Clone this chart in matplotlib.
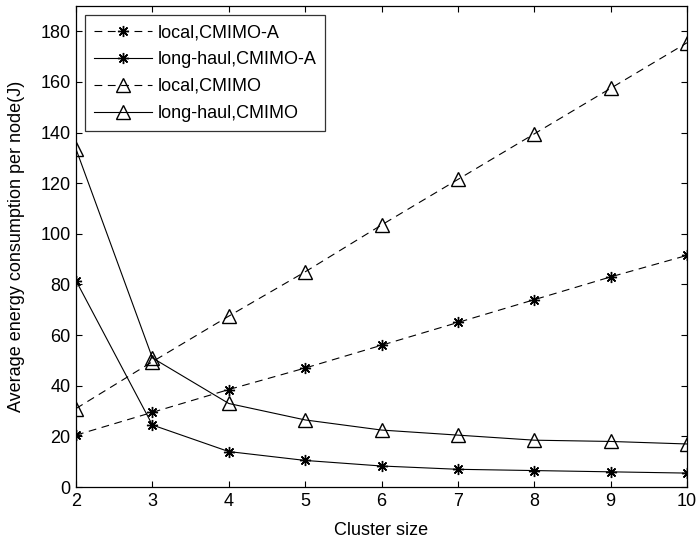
import numpy as np
import matplotlib
matplotlib.use('Agg')
import matplotlib.pyplot as plt

plt.rcParams['font.family'] = ['Liberation Sans', 'DejaVu Sans']

# 데이터
cluster_size = [2, 3, 4, 5, 6, 7, 8, 9, 10]
local_cmimo_a = [20.5, 29.5, 38.5, 47, 56, 65, 74, 83, 91.5]
longhaul_cmimo_a = [81.5, 24.5, 14, 10.5, 8.3, 7, 6.5, 6, 5.5]
local_cmimo = [31, 49.5, 67.5, 85, 103.5, 121.5, 139.5, 157.5, 175.5]
longhaul_cmimo = [133.5, 51, 33, 26.5, 22.5, 20.5, 18.5, 18, 17]

star = (8, 2, 0)
fs = 13

fig = plt.figure(figsize=(6.98, 5.43), dpi=100)
ax = fig.add_axes([0.1089, 0.1031, 0.8754, 0.8858])

ax.plot(cluster_size, local_cmimo_a, 'k--', marker=star, lw=0.8, ms=8, dashes=(7, 5), label='local,CMIMO-A')
ax.plot(cluster_size, longhaul_cmimo_a, 'k-', marker=star, lw=0.8, ms=8, label='long-haul,CMIMO-A')
ax.plot(cluster_size, local_cmimo, 'k--^', lw=0.8, ms=9.5, mfc='none', dashes=(7, 5), label='local,CMIMO')
ax.plot(cluster_size, longhaul_cmimo, 'k-^', lw=0.8, ms=9.5, mfc='none', label='long-haul,CMIMO')

ax.set_xlim(2, 10)
ax.set_ylim(0, 190)
ax.set_xticks(range(2, 11))
ax.set_yticks(range(0, 181, 20))
for s in ax.spines.values():
    s.set_linewidth(0.9)
ax.tick_params(direction='in', top=True, right=True, labelsize=fs, length=4.5, width=0.8)
ax.tick_params(axis='x', pad=4)
ax.tick_params(axis='y', pad=4)
ax.set_xlabel('Cluster size', fontsize=fs, labelpad=9)
ax.set_ylabel('Average energy consumption per node(J)', fontsize=fs, labelpad=11)

leg = ax.legend(loc='upper left', fontsize=fs, frameon=True, fancybox=False,
                edgecolor='black', borderaxespad=0.5, handlelength=3.2,
                handletextpad=0.3, labelspacing=0.55, borderpad=0.5)
leg.get_frame().set_linewidth(0.9)

plt.savefig('out.png', dpi=100)
